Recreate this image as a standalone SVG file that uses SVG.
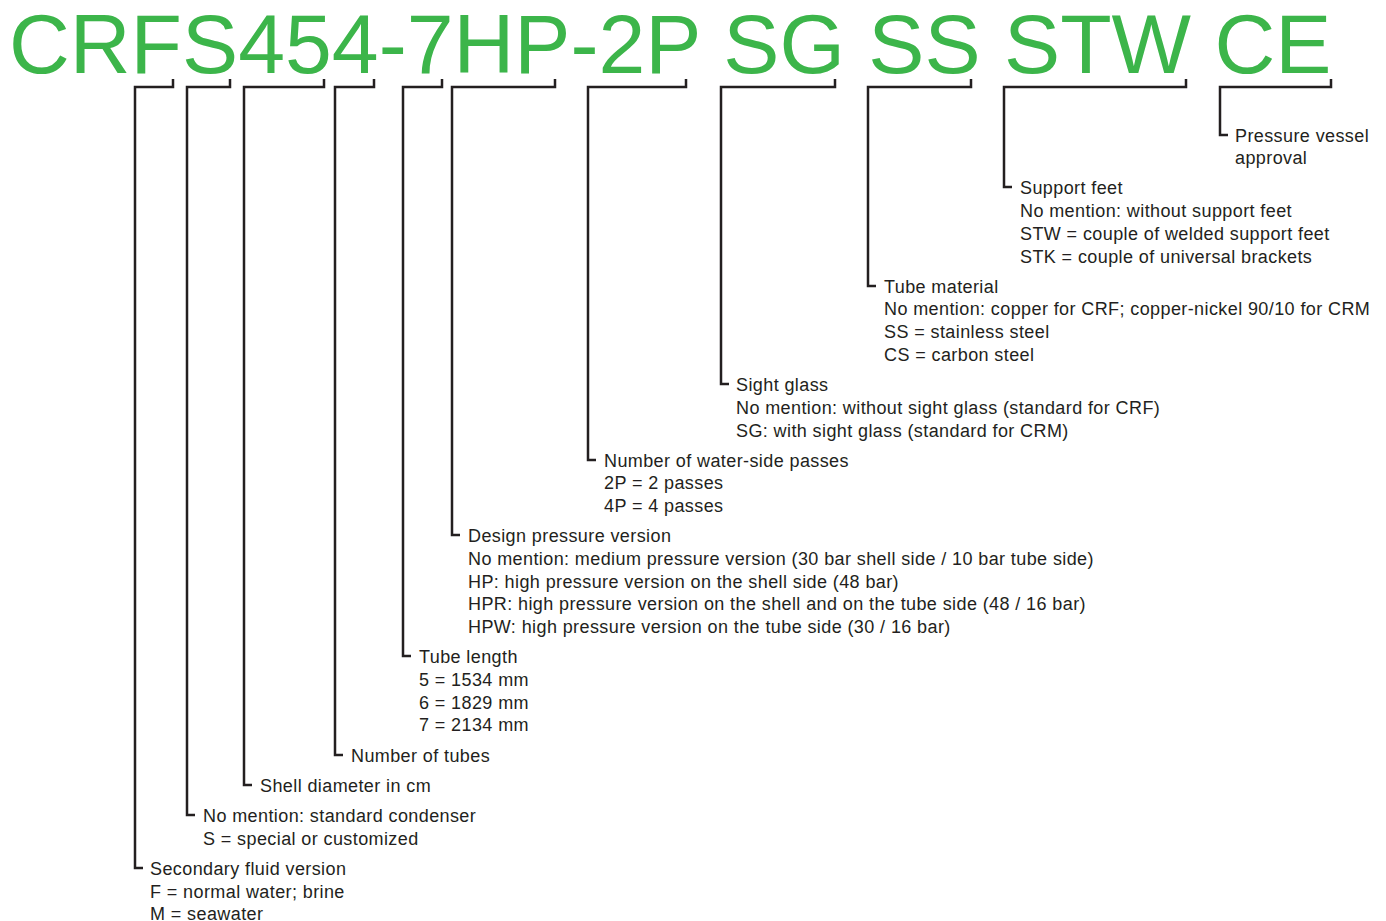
<svg xmlns="http://www.w3.org/2000/svg" width="1386" height="921" viewBox="0 0 1386 921">
<style>
.t{font-family:"Liberation Sans",Arial,sans-serif;font-size:18px;letter-spacing:0.4px;fill:#231f20}
.title{font-family:"Liberation Sans",Arial,sans-serif;font-size:84.2px;fill:#3cb54a}
.c{fill:none;stroke:#231f20;stroke-width:2.5}
</style>
<rect width="1386" height="921" fill="#fff"/>
<g id="title"><text class="title" x="9" y="73">CRFS454-7HP-2P SG SS STW CE</text></g>
<g id="connectors">
<path class="c" d="M173,79V87H135V868H143"/>
<path class="c" d="M230,79V87H187V815H195"/>
<path class="c" d="M324,79V87H244V785H252"/>
<path class="c" d="M374,79V87H335V755H343"/>
<path class="c" d="M442,79V87H403V656H411"/>
<path class="c" d="M555,79V87H452V535H460"/>
<path class="c" d="M686,79V87H588V460H596"/>
<path class="c" d="M835,79V87H721V384H729"/>
<path class="c" d="M971,79V87H868V286H876"/>
<path class="c" d="M1186,79V87H1004V187H1012"/>
<path class="c" d="M1331,79V87H1220V135H1228"/>
</g>
<g id="n-ce"><text class="t"><tspan x="1235" y="142">Pressure vessel</tspan><tspan x="1235" y="164">approval</tspan></text></g>
<g id="n-stw"><text class="t"><tspan x="1020" y="194">Support feet</tspan><tspan x="1020" y="217">No mention: without support feet</tspan><tspan x="1020" y="240">STW = couple of welded support feet</tspan><tspan x="1020" y="263">STK = couple of universal brackets</tspan></text></g>
<g id="n-ss"><text class="t"><tspan x="884" y="293">Tube material</tspan><tspan x="884" y="315">No mention: copper for CRF; copper-nickel 90/10 for CRM</tspan><tspan x="884" y="338">SS = stainless steel</tspan><tspan x="884" y="361">CS = carbon steel</tspan></text></g>
<g id="n-sg"><text class="t"><tspan x="736" y="391">Sight glass</tspan><tspan x="736" y="414">No mention: without sight glass (standard for CRF)</tspan><tspan x="736" y="437">SG: with sight glass (standard for CRM)</tspan></text></g>
<g id="n-passes"><text class="t"><tspan x="604" y="467">Number of water-side passes</tspan><tspan x="604" y="489">2P = 2 passes</tspan><tspan x="604" y="512">4P = 4 passes</tspan></text></g>
<g id="n-pressure"><text class="t"><tspan x="468" y="542">Design pressure version</tspan><tspan x="468" y="565">No mention: medium pressure version (30 bar shell side / 10 bar tube side)</tspan><tspan x="468" y="588">HP: high pressure version on the shell side (48 bar)</tspan><tspan x="468" y="610">HPR: high pressure version on the shell and on the tube side (48 / 16 bar)</tspan><tspan x="468" y="633">HPW: high pressure version on the tube side (30 / 16 bar)</tspan></text></g>
<g id="n-length"><text class="t"><tspan x="419" y="663">Tube length</tspan><tspan x="419" y="686">5 = 1534 mm</tspan><tspan x="419" y="709">6 = 1829 mm</tspan><tspan x="419" y="731">7 = 2134 mm</tspan></text></g>
<g id="n-tubes"><text class="t" x="351" y="762">Number of tubes</text></g>
<g id="n-shell"><text class="t" x="260" y="792">Shell diameter in cm</text></g>
<g id="n-special"><text class="t"><tspan x="203" y="822">No mention: standard condenser</tspan><tspan x="203" y="845">S = special or customized</tspan></text></g>
<g id="n-fluid"><text class="t"><tspan x="150" y="875">Secondary fluid version</tspan><tspan x="150" y="898">F = normal water; brine</tspan><tspan x="150" y="920">M = seawater</tspan></text></g>
</svg>
